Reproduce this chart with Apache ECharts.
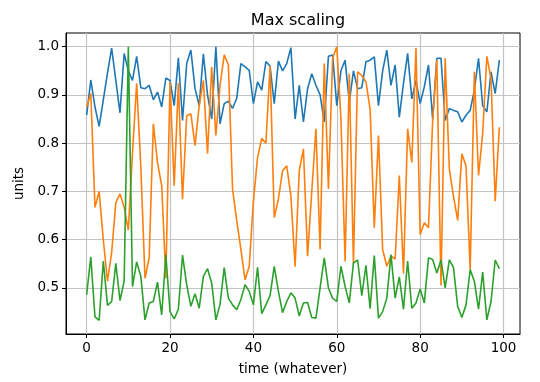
<!DOCTYPE html>
<html>
<head>
<meta charset="utf-8">
<script src="https://cdn.jsdelivr.net/npm/echarts@6/dist/echarts.min.js"></script>
<style>
html,body{margin:0;padding:0;background:#fff;}
#chart{width:540px;height:382px;}
</style>
</head>
<body>
<div id="chart"></div>
<script>
const titleText = 'Max scaling';
const xName = 'time (whatever)';
const yName = 'units';
const xTicks = [0, 20, 40, 60, 80, 100];
const yTicks = [0.5, 0.6, 0.7, 0.8, 0.9, 1.0];

const blue = [0.858,0.931,0.875,0.835,0.89,0.945,0.997,0.93,0.863,0.986,
0.95,0.93,0.98,0.915,0.913,0.92,0.89,0.906,0.875,0.935,
0.93,0.878,0.977,0.847,0.965,0.993,0.913,0.878,0.985,0.9,
0.85,1.0,0.84,0.882,0.887,0.872,0.893,0.965,0.958,0.951,
0.882,0.927,0.91,0.969,0.96,0.882,0.97,0.95,0.965,0.998,
0.85,0.92,0.844,0.913,0.944,0.92,0.9,0.844,0.98,0.983,
0.878,0.95,0.972,0.885,0.95,0.913,0.915,0.969,0.972,0.979,
0.878,0.95,0.993,0.92,0.962,0.854,0.924,0.986,0.892,0.93,
0.882,0.917,0.962,0.85,0.976,0.976,0.847,0.872,0.868,0.865,
0.844,0.858,0.868,0.91,0.976,0.878,0.865,0.948,0.903,0.972];

const orange = [0.875,0.903,0.667,0.70,0.6,0.514,0.573,0.677,0.695,0.667,
0.62,0.78,0.924,0.75,0.52,0.5625,0.84,0.76,0.712,0.52,
0.927,0.712,0.924,0.684,0.857,0.861,0.795,0.878,0.93,0.778,
0.958,0.816,0.92,0.983,0.962,0.705,0.64,0.58,0.517,0.545,
0.68,0.77,0.81,0.8,0.96,0.646,0.684,0.743,0.753,0.69,
0.544,0.743,0.788,0.566,0.7,0.83,0.58,0.965,0.705,0.976,
1.0,0.85,0.555,0.944,0.55,0.948,0.94,0.927,0.87,0.625,
0.816,0.58,0.545,0.566,0.56,0.733,0.53,0.83,0.76,0.997,
0.611,0.635,0.625,0.847,0.972,0.505,0.976,0.747,0.69,0.64,
0.778,0.753,0.538,0.948,0.733,0.82,0.98,0.934,0.68,0.833];

const green = [0.486,0.5646,0.44,0.433,0.556,0.464,0.472,0.551,0.474,0.514,
1.0,0.503,0.554,0.524,0.434,0.469,0.472,0.512,0.444,0.569,
0.451,0.436,0.456,0.568,0.507,0.462,0.488,0.458,0.524,0.54,
0.51,0.434,0.466,0.542,0.479,0.465,0.455,0.476,0.507,0.493,
0.465,0.543,0.447,0.465,0.484,0.545,0.493,0.449,0.472,0.49,
0.479,0.442,0.469,0.47,0.439,0.4375,0.50,0.5625,0.5,0.479,
0.472,0.545,0.503,0.469,0.552,0.558,0.484,0.547,0.457,0.567,
0.4375,0.451,0.479,0.569,0.479,0.523,0.456,0.556,0.458,0.469,
0.498,0.469,0.5625,0.559,0.531,0.558,0.50,0.558,0.542,0.462,
0.439,0.465,0.538,0.514,0.456,0.533,0.434,0.472,0.558,0.54];

function pairs(arr){ return arr.map((v,i)=>[i,v]); }

const FONT = 'DejaVu Sans';
const chart = echarts.init(document.getElementById('chart'), null, {renderer:'canvas'});
const mkSeries = (name, data, color) => ({
  name, type:'line', data: pairs(data), showSymbol:false, symbol:'none',
  lineStyle:{color, width:1.6}, itemStyle:{color}, animation:false, clip:true
});
chart.setOption({
  animation:false,
  backgroundColor:'#ffffff',
  title:{text:titleText, left:293, top:8, textAlign:'center',
    textStyle:{fontFamily:FONT, fontSize:16, fontWeight:'normal', color:'#000'}},
  grid:{left:66, right:20, top:33, bottom:48, show:true, borderColor:'#000', borderWidth:1, backgroundColor:'transparent'},
  xAxis:{type:'value', min:-4.95, max:103.95,
    name:xName, nameLocation:'middle', nameGap:28,
    nameTextStyle:{fontFamily:FONT, fontSize:13.5, color:'#000'},
    axisLine:{show:true, onZero:false, lineStyle:{color:'#000', width:1}},
    axisTick:{show:true, length:4, customValues:xTicks, lineStyle:{color:'#000'}},
    axisLabel:{customValues:xTicks, margin:7, fontFamily:FONT, fontSize:13.5, color:'#000'},
    splitLine:{show:true, lineStyle:{color:'#c4c4c4', width:1.2}}
  },
  yAxis:{type:'value', min:0.40465, max:1.02835,
    name:yName, nameLocation:'middle', nameGap:37, nameRotate:90,
    nameTextStyle:{fontFamily:FONT, fontSize:13.5, color:'#000'},
    axisLine:{show:true, onZero:false, lineStyle:{color:'#000', width:1}},
    axisTick:{show:true, length:4, customValues:yTicks, lineStyle:{color:'#000'}},
    axisLabel:{customValues:yTicks, margin:7, fontFamily:FONT, fontSize:13.5, color:'#000',
      formatter:(v)=>v.toFixed(1)},
    splitLine:{show:true, lineStyle:{color:'#c4c4c4', width:1.2}}
  },
  series:[
    mkSeries('blue', blue, '#1f77b4'),
    mkSeries('orange', orange, '#ff7f0e'),
    mkSeries('green', green, '#2ca02c')
  ]
});
</script>
</body>
</html>
